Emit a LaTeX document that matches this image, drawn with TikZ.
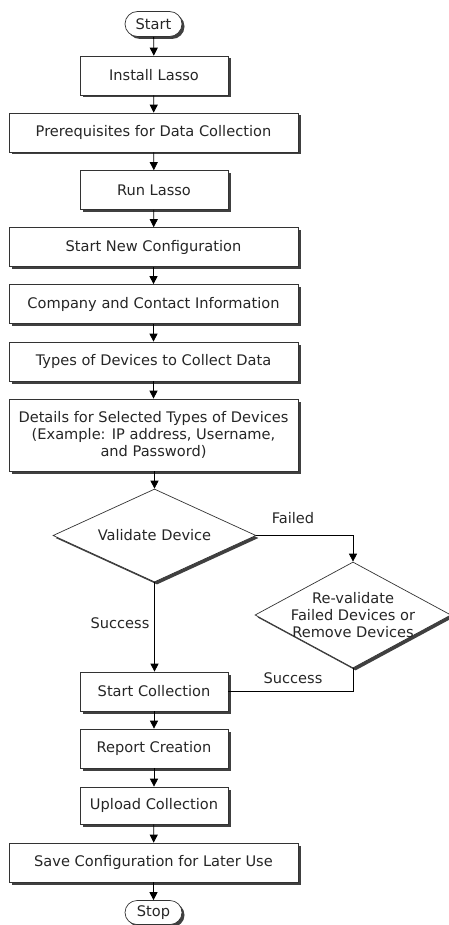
\documentclass[tikz,border=0pt]{standalone}
\usepackage{fontspec}
\setmainfont{DejaVu Sans}
\usetikzlibrary{shapes.geometric,shapes.misc,shadows,arrows.meta}
\begin{document}
\begin{tikzpicture}[x=1pt,y=-1pt,
  font=\fontsize{14.6}{17}\selectfont,
  every node/.style={text=black!85},
  shad/.style={drop shadow={opacity=1,fill=black!75,shadow xshift=2.5pt,shadow yshift=-2.5pt}},
  procbox/.style={rectangle,draw=black!80,line width=0.7pt,fill=white,shad,inner sep=0pt,minimum height=39pt,align=center},
  narrowbox/.style={procbox,minimum width=148pt},
  widebox/.style={procbox,minimum width=289pt},
  termbox/.style={rounded rectangle,draw=black!80,line width=0.7pt,fill=white,shad,inner sep=0pt,minimum width=57pt,minimum height=25pt},
  decbox/.style={diamond,draw=black!80,line width=0.7pt,fill=white,shad,inner sep=0pt},
  lbl/.style={inner sep=0pt},
  conn/.style={draw=black,line width=0.8pt},
  arr/.style={conn,-{Triangle[length=8pt,width=8pt]}}
]
\useasboundingbox (0,0) rectangle (449,925);
\node[termbox] (start) at (153.5,24) {Start};
\node[narrowbox] (install) at (154,75.5) {Install Lasso};
\node[widebox] (prereq) at (153.5,132.5) {Prerequisites for Data Collection};
\node[narrowbox] (run) at (154,190) {Run Lasso};
\node[widebox] (newconf) at (153.5,247) {Start New Configuration};
\node[widebox] (company) at (153.5,304) {Company and Contact Information};
\node[widebox] (types) at (153.5,361.5) {Types of Devices to Collect Data};
\node[widebox,minimum height=72pt] (details) at (153.5,435) {Details for Selected Types of Devices\\(Example: IP address, Username,\\and Password)};
\node[decbox,minimum width=203pt,minimum height=93pt] (validate) at (154.5,535.5) {};
\node[lbl] (validatetxt) at (validate) {Validate Device};
\node[decbox,minimum width=196pt,minimum height=106pt] (reval) at (353,615) {};
\node[lbl,align=center] (revaltxt) at (reval) {Re-validate\\Failed Devices or\\Remove Devices};
\node[narrowbox] (startcoll) at (154,691.5) {Start Collection};
\node[narrowbox] (report) at (154,748.5) {Report Creation};
\node[narrowbox,minimum height=37pt] (upload) at (154,805.5) {Upload Collection};
\node[widebox] (save) at (153.5,862.5) {Save Configuration for Later Use};
\node[termbox,minimum height=24pt] (stop) at (153.5,912.5) {Stop};

\draw[arr] (start) -- (install);
\draw[arr] (install) -- (prereq);
\draw[arr] (prereq) -- (run);
\draw[arr] (run) -- (newconf);
\draw[arr] (newconf) -- (company);
\draw[arr] (company) -- (types);
\draw[arr] (types) -- (details);
\draw[arr] (details.south -| validate.north) -- (validate.north);
\draw[arr] (validate.east) -| (reval.north);
\draw[arr] (validate.south) -- (startcoll.north -| validate.south);
\draw[conn] (reval.south) |- (startcoll.east);
\draw[arr] (startcoll) -- (report);
\draw[arr] (report) -- (upload);
\draw[arr] (upload) -- (save);
\draw[arr] (save) -- (stop);

\node[lbl] (failedlbl) at (293,518) {Failed};
\node[lbl] (succleft) at (120,623) {Success};
\node[lbl] (succright) at (293,678) {Success};
\end{tikzpicture}
\end{document}
